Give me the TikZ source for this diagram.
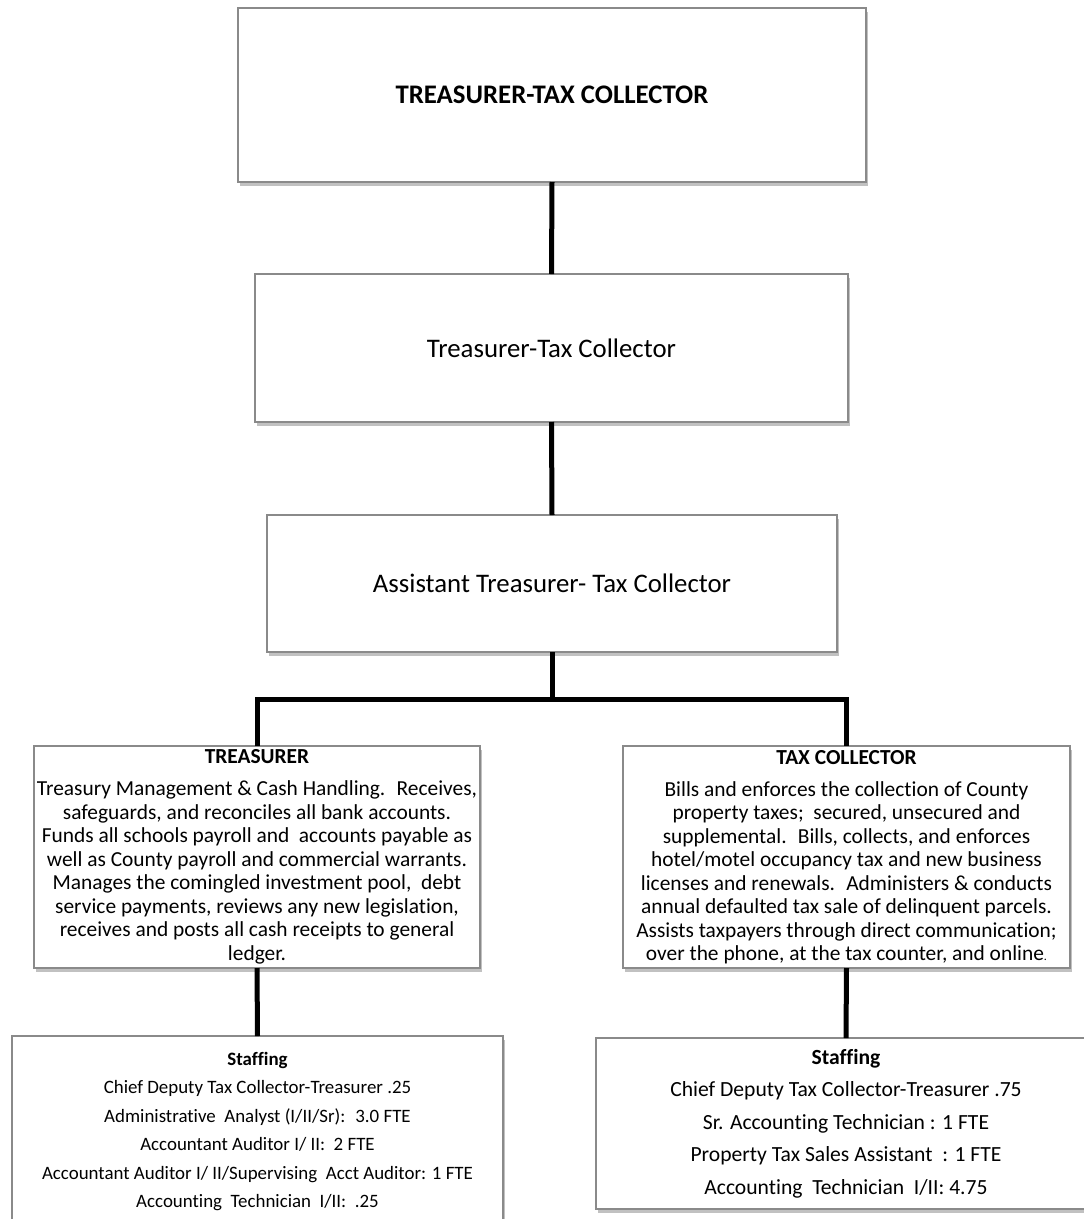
\documentclass[tikz,border=0pt]{standalone}
\usepackage{fontspec}
\setmainfont{Carlito}[Ligatures=NoCommon]
\usetikzlibrary{shadows}
\definecolor{boxgray}{HTML}{8A8A8A}
\begin{document}
\begin{tikzpicture}[x=1pt,y=-1pt,
  orgbox/.style={draw=boxgray, line width=1.2pt, fill=white, inner sep=0pt,
    outer sep=0pt, align=center,
    drop shadow={shadow xshift=1.5pt, shadow yshift=-4pt, opacity=0.4, fill=black!60}},
  link/.style={line width=5pt, black},
  titlefont/.style={font=\fontsize{26.8}{30}\selectfont},
  deptfont/.style={font=\fontsize{21.4}{23.5}\selectfont},
  staffsmall/.style={font=\fontsize{18.9}{28.5}\selectfont},
  stafflarge/.style={font=\fontsize{21.6}{32.4}\selectfont}]
\useasboundingbox (0,0) rectangle (1084,1219);
\clip (0,0) rectangle (1084,1219);
\fill[white] (0,0) rectangle (1084,1219);

% chain of command
\node[orgbox, titlefont, minimum width=628, minimum height=174] (head) at (552,95)
  {\bfseries TREASURER-TAX COLLECTOR};
\node[orgbox, titlefont, minimum width=593, minimum height=148] (ttc) at (551.5,348)
  {Treasurer-Tax Collector};
\node[orgbox, titlefont, minimum width=570, minimum height=137] (asst) at (552,583.5)
  {Assistant Treasurer- Tax Collector};

% divisions
\node[orgbox, deptfont, minimum width=446, minimum height=222] (treas) at (257,857)
  {\textbf{TREASURER}\\[8.5pt]
   Treasury Management \& Cash Handling.~ Receives,\\
   safeguards, and reconciles all bank accounts.\\
   Funds all schools payroll and~ accounts payable as\\
   well as County payroll and commercial warrants.\\
   Manages the comingled investment pool,~ debt\\
   service payments, reviews any new legislation,\\
   receives and posts all cash receipts to general\\
   ledger.};
\node[orgbox, deptfont, minimum width=447, minimum height=222] (tax) at (846.5,857)
  {\textbf{TAX COLLECTOR}\\[8.5pt]
   Bills and enforces the collection of County\\
   property taxes;~ secured, unsecured and\\
   supplemental.~ Bills, collects, and enforces\\
   hotel/motel occupancy tax and new business\\
   licenses and renewals.~ Administers \& conducts\\
   annual defaulted tax sale of delinquent parcels.\\
   Assists taxpayers through direct communication;\\
   over the phone, at the tax counter, and online{\fontsize{12}{12}\selectfont.}};

% staffing
\node[orgbox, staffsmall, minimum width=491, minimum height=191] (staffL) at (257.5,1131.5)
  {\textbf{Staffing}\\
   Chief Deputy Tax Collector-Treasurer .25\\
   Administrative~ Analyst (I/II/Sr):~ 3.0 FTE\\
   Accountant Auditor I/ II:~ 2 FTE\\
   Accountant Auditor I/ II/Supervising~ Acct Auditor: 1 FTE\\
   Accounting~ Technician~ I/II:~ .25};
\node[orgbox, stafflarge, minimum width=500, minimum height=171] (staffR) at (846,1123.5)
  {\textbf{Staffing}\\
   Chief Deputy Tax Collector-Treasurer .75\\
   Sr. Accounting Technician : 1 FTE\\
   Property Tax Sales Assistant~ : 1 FTE\\
   Accounting~ Technician~ I/II: 4.75};

% connectors
\coordinate (bus) at (552,699);
\draw[link] (head.south) -- (ttc.north);
\draw[link] (ttc.south) -- (asst.north);
\draw[link] (asst.south) -- (bus);
\draw[link] (treas.north) -- (treas.north |- bus) -- (tax.north |- bus) -- (tax.north);
\draw[link] (treas.south) -- (staffL.north);
\draw[link] (tax.south) -- (staffR.north);
\end{tikzpicture}
\end{document}
